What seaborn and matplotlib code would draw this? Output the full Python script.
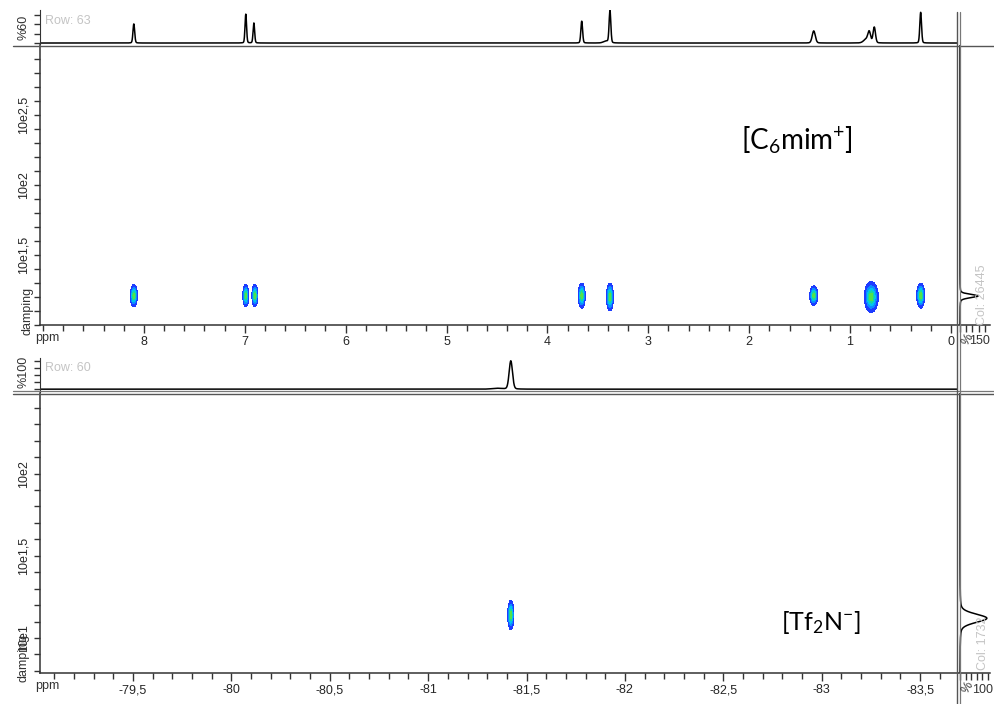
import numpy as np
import matplotlib.pyplot as plt
import matplotlib.lines as mlines
import seaborn as sns

# --- top panel: cation 1H trace (ppm, %, half width ppm) ---
cation_shift = [8.10, 6.99, 6.91, 3.66, 3.38, 3.42, 1.36, 0.84, 0.81, 0.76, 0.30]
cation_height = [41, 62, 43, 47, 69, 4, 26, 8, 22, 34, 66]
cation_width = [0.010, 0.009, 0.009, 0.010, 0.010, 0.030, 0.018, 0.030, 0.016, 0.014, 0.010]

# cation DOSY spots (ppm, log10 damping, half extent ppm, half extent decades)
cation_spot_shift = [8.10, 6.99, 6.90, 3.66, 3.38, 1.36, 0.79, 0.30]
cation_spot_logd = [1.21, 1.21, 1.21, 1.21, 1.20, 1.21, 1.20, 1.21]
cation_spot_dx = [0.035, 0.030, 0.030, 0.035, 0.035, 0.040, 0.070, 0.040]
cation_spot_dy = [0.080, 0.080, 0.080, 0.090, 0.100, 0.070, 0.110, 0.090]

# cation column projection
cation_col_logd = [1.207]
cation_col_height = [144]
cation_col_width = [0.014]

# --- bottom panel: anion 19F trace ---
anion_shift = [-81.42, -81.35]
anion_height = [100, 3]
anion_width = [0.010, 0.030]

anion_spot_shift = [-81.42]
anion_spot_logd = [1.14]
anion_spot_dx = [0.016]
anion_spot_dy = [0.090]

anion_col_logd = [1.12]
anion_col_height = [120]
anion_col_width = [0.030]

top_xticks = [8, 7, 6, 5, 4, 3, 2, 1, 0]
bottom_xticks = [-79.5, -80, -80.5, -81, -81.5, -82, -82.5, -83, -83.5]
top_yticks = [2.5, 2.0, 1.5]
top_ylabels = ['10e2,5', '10e2', '10e1,5']
bottom_yticks = [2.0, 1.5, 1.0]
bottom_ylabels = ['10e2', '10e1,5', '10e1']

spot_colors = ['#1d3cff', '#0a8cff', '#00c4f0', '#18d8a0', '#52e24a']
spot_levels = [0.10, 0.30, 0.50, 0.70, 0.88, 1.5]

sns.set_style('ticks')
plt.rcParams['font.family'] = ['Liberation Sans', 'DejaVu Sans']
plt.rcParams['mathtext.fontset'] = 'custom'
plt.rcParams['mathtext.rm'] = 'Lato'
plt.rcParams['mathtext.it'] = 'Lato:italic'
plt.rcParams['mathtext.bf'] = 'Lato:bold'

W, H = 995, 704
fig = plt.figure(figsize=(W / 100, H / 100), dpi=100)
AX = '#333333'
GRAY = '#c4c4c4'


def box(x0, y0, x1, y1):
    return [x0 / W, 1 - y1 / H, (x1 - x0) / W, (y1 - y0) / H]


def peaks(x, centers, heights, widths, eta=0.15):
    # mostly gaussian line shape with a little lorentzian tail
    y = np.zeros_like(x)
    for c, h, w in zip(centers, heights, widths):
        lor = w ** 2 / ((x - c) ** 2 + w ** 2)
        gau = np.exp(-np.log(2) * ((x - c) / w) ** 2)
        y += h * (eta * lor + (1 - eta) * gau)
    return y


def spots(X, Y, cx, cy, dx, dy):
    Z = np.zeros_like(X)
    for a, b, sx, sy in zip(cx, cy, dx, dy):
        g = np.exp(-0.5 * ((X - a) / (sx / 2.15)) ** 2 - 0.5 * ((Y - b) / (sy / 2.15)) ** 2)
        Z = np.maximum(Z, g)
    return Z


def fmt(v):
    return ('%g' % v).replace('.', ',')


def figline(x0, y0, x1, y1, lw=1.0, color='#555555'):
    fig.add_artist(mlines.Line2D([x0 / W, x1 / W], [1 - y0 / H, 1 - y1 / H],
                                 transform=fig.transFigure, color=color, lw=lw))


def figtext(x, y, s, **kw):
    fig.text(x / W, 1 - y / H, s, **kw)


def panel(py, xlim, ylim, xticks, xminor, yticks, ylabels, strip_ylim, strip_ticks,
          shift, height, width, sx, sy, sdx, sdy, col_d, col_h, col_w, col_xlim, col_ticks):
    s0, s1, m1 = py
    ax_s = fig.add_axes(box(40, s0, 958, s1))
    ax_m = fig.add_axes(box(40, s1 + 1, 958, m1))
    ax_r = fig.add_axes(box(959, s1 + 1, 990, m1))

    # row trace
    ppm = np.linspace(xlim[0], xlim[1], 8000)
    sns.lineplot(x=ppm, y=peaks(ppm, shift, height, width), ax=ax_s,
                 color='black', lw=1.1, sort=False, estimator=None)
    ax_s.set_xlim(xlim)
    ax_s.set_ylim(strip_ylim)
    for sp in ['top', 'right', 'bottom']:
        ax_s.spines[sp].set_visible(False)
    ax_s.spines['left'].set_color(AX)
    ax_s.set_xticks([])
    ax_s.set_yticks(strip_ticks)
    ax_s.set_yticklabels([])
    ax_s.tick_params(axis='y', direction='out', length=4, width=1, color=AX)

    # DOSY map
    gx = np.linspace(xlim[0], xlim[1], 2400)
    gy = np.linspace(ylim[0], ylim[1], 600)
    X, Y = np.meshgrid(gx, gy)
    ax_m.contourf(X, Y, spots(X, Y, sx, sy, sdx, sdy), levels=spot_levels, colors=spot_colors)
    ax_m.set_xlim(xlim)
    ax_m.set_ylim(ylim)
    for sp in ['top', 'right']:
        ax_m.spines[sp].set_visible(False)
    for sp in ['left', 'bottom']:
        ax_m.spines[sp].set_color(AX)
        ax_m.spines[sp].set_linewidth(1.1)
    ax_m.set_xticks(xticks)
    ax_m.set_xticklabels([fmt(v) for v in xticks], fontsize=9)
    ax_m.set_xticks(xminor, minor=True)
    ax_m.set_yticks(yticks)
    ax_m.set_yticklabels(ylabels, rotation=90, va='center', fontsize=9)
    ax_m.set_yticks(np.round(np.arange(np.ceil(ylim[0] * 10) / 10, ylim[1], 0.1), 2), minor=True)
    ax_m.tick_params(axis='x', which='major', direction='out', length=6, width=1, pad=2, color=AX)
    ax_m.tick_params(axis='x', which='minor', direction='out', length=4, width=1, color=AX)
    ax_m.tick_params(axis='y', which='both', direction='out', length=4, width=1, pad=3.5, color=AX)
    ax_m.set_xlabel('')
    ax_m.set_ylabel('')

    # column trace
    dd = np.linspace(ylim[0], ylim[1], 3000)
    sns.lineplot(x=peaks(dd, col_d, col_h, col_w, eta=0.3), y=dd, ax=ax_r, color='black',
                 lw=1.1, sort=False, estimator=None, orient='y')
    ax_r.set_xlim(col_xlim)
    ax_r.set_ylim(ylim)
    for sp in ['top', 'right', 'left']:
        ax_r.spines[sp].set_visible(False)
    ax_r.spines['bottom'].set_color(AX)
    ax_r.spines['bottom'].set_linewidth(1.1)
    ax_r.set_yticks([])
    ax_r.set_xticks(col_ticks)
    ax_r.set_xticklabels([])
    ax_r.tick_params(axis='x', direction='out', length=5, width=1, color=AX)
    ax_r.set_xlabel('')
    ax_r.set_ylabel('')
    return ax_s, ax_m, ax_r


panel((10, 44, 325), (9.03, -0.07), (1.0, 3.0),
      top_xticks, np.round(np.arange(0, 9.01, 0.2), 1), top_yticks, top_ylabels,
      (-2.1, 71), [0, 20, 40, 60],
      cation_shift, cation_height, cation_width,
      cation_spot_shift, cation_spot_logd, cation_spot_dx, cation_spot_dy,
      cation_col_logd, cation_col_height, cation_col_width, (-8, 240), [0, 50, 100, 150, 200])

panel((358, 392, 673), (-79.027, -83.693), (0.787, 2.49),
      bottom_xticks, np.round(np.arange(-83.6, -79.0, 0.1), 1), bottom_yticks, bottom_ylabels,
      (-10, 110), [0, 25, 50, 75, 100],
      anion_shift, anion_height, anion_width,
      anion_spot_shift, anion_spot_logd, anion_spot_dx, anion_spot_dy,
      anion_col_logd, anion_col_height, anion_col_width, (-4.5, 134), [0, 25, 50, 75, 100, 125])

# frame rules
figline(13, 45.5, 995, 45.5)
figline(13, 391, 995, 391, lw=0.9, color='#777777')
figline(13, 394, 995, 394)
figline(957, 12, 957, 704)
figline(960, 12, 960, 704, lw=0.9, color='#777777')

# labels
figtext(24, 27, '%60', rotation=90, ha='center', va='center', fontsize=9, color=AX)
figtext(24, 372, '%100', rotation=90, ha='center', va='center', fontsize=9, color=AX)
figtext(45, 21, 'Row: 63', ha='left', va='center', fontsize=9, color=GRAY)
figtext(45, 368, 'Row: 60', ha='left', va='center', fontsize=9, color=GRAY)
figtext(28, 335, 'damping', rotation=90, ha='center', va='bottom', fontsize=9, color=AX)
figtext(24, 682, 'damping', rotation=90, ha='center', va='bottom', fontsize=9, color=AX)
figtext(35, 332, 'ppm', ha='left', va='top', fontsize=9, color=AX)
figtext(35, 680, 'ppm', ha='left', va='top', fontsize=9, color=AX)
figtext(982, 325, 'Col: 26445', rotation=90, ha='center', va='bottom', fontsize=9, color=GRAY)
figtext(983, 670, 'Col: 1732', rotation=90, ha='center', va='bottom', fontsize=9, color=GRAY)
figtext(968, 340, '%', rotation=60, ha='center', va='center', fontsize=9, color=AX)
figtext(980, 341, '150', ha='center', va='center', fontsize=9, color=AX)
figtext(968, 688, '%', rotation=60, ha='center', va='center', fontsize=9, color=AX)
figtext(983, 690, '100', ha='center', va='center', fontsize=9, color=AX)

figtext(797, 140, r'[C$_{\mathrm{6}}$mim$^{\mathrm{+}}$]', ha='center', va='center',
        fontsize=20, family='Lato', color='black')
figtext(821, 622, r'[Tf$_{\mathrm{2}}$N$^{\mathrm{-}}$]', ha='center', va='center',
        fontsize=18, family='Lato', color='black')

fig.savefig('out.png', dpi=100, facecolor='white')
